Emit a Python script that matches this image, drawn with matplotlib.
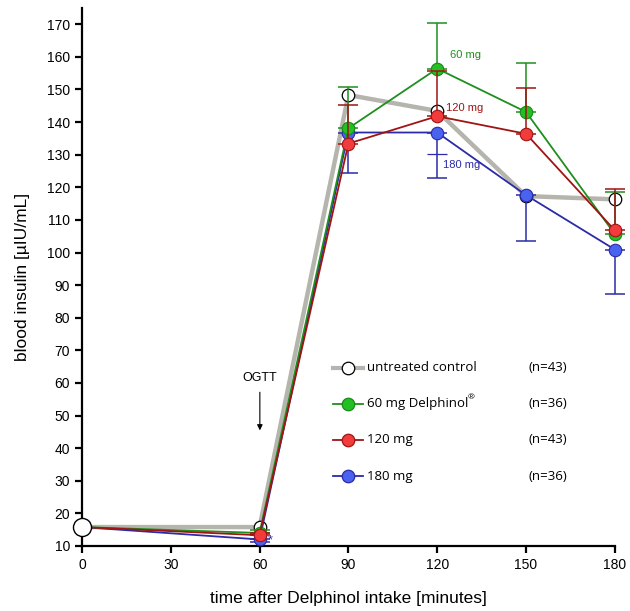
import matplotlib
matplotlib.use("Agg")
import matplotlib.pyplot as plt
from matplotlib.lines import Line2D

plt.rcParams['font.family'] = ['Liberation Sans', 'DejaVu Sans']

time = [0, 60, 90, 120, 150, 180]
control = [15.8, 15.8, 148.3, 143.4, 117.3, 116.3]
mg60 = [15.8, 14.0, 138.1, 156.4, 143.1, 105.6]
mg120 = [15.8, 13.3, 133.4, 141.8, 136.4, 106.8]
mg180 = [15.8, 12.0, 136.8, 136.8, 117.6, 100.9]

# one-sided error bars (upper for 60/120 mg, lower for 180 mg)
err60_up = [0, 0.8, 12.8, 14.0, 14.9, 12.9]
err120_up = [0, 0.8, 11.7, 14.0, 14.2, 12.6]
err180_dn = [0, 0.8, 12.3, 14.0, 14.0, 13.6]
blue_mid_tick = (120, 130.2)

legend_labels = ["untreated control", "60 mg Delphinol", "120 mg", "180 mg"]
legend_n = ["(n=43)", "(n=36)", "(n=43)", "(n=36)"]
xticks = [0, 30, 60, 90, 120, 150, 180]
yticks = list(range(10, 171, 10))

c_grey = "#b5b5ae"
g_line, g_fill, g_edge = "#1f8f1f", "#22c022", "#178a17"
r_line, r_fill, r_edge = "#a01414", "#f23c3c", "#a01414"
b_line, b_fill, b_edge = "#2b2ba8", "#4a62f0", "#2b2ba8"

fig = plt.figure(figsize=(6.30, 6.11), dpi=100)
ax = fig.add_axes([0.130, 0.1064, 0.846, 0.8806])
ax.set_xlim(0, 180)
ax.set_ylim(10, 175)

ms = 9
# control
ax.plot(time, control, color=c_grey, lw=3.2, zorder=2, solid_capstyle='butt')
ax.plot(time[1:], control[1:], 'o', mfc='white', mec='black', mew=0.9, ms=ms, zorder=2.5, clip_on=False)
ax.plot(time[:1], control[:1], 'o', mfc='white', mec='black', mew=1.0, ms=13, zorder=9, clip_on=False)

# 180 mg
ax.errorbar(time[1:], mg180[1:], yerr=[err180_dn[1:], [0]*5], fmt='none', ecolor=b_line,
            elinewidth=1.1, capsize=7, capthick=1.1, zorder=3, clip_on=False)
ax.plot([blue_mid_tick[0]], [blue_mid_tick[1]], marker='_', color=b_line, ms=14, mew=0.9, zorder=3)
ax.plot(time, mg180, color=b_line, lw=1.3, zorder=3)
ax.plot(time[1:], mg180[1:], 'o', mfc=b_fill, mec=b_edge, mew=0.8, ms=ms, zorder=3.5, clip_on=False)

# 60 mg
ax.errorbar(time[1:], mg60[1:], yerr=[[0]*5, err60_up[1:]], fmt='none', ecolor=g_line,
            elinewidth=1.1, capsize=7, capthick=1.1, zorder=4, clip_on=False)
ax.plot(time, mg60, color=g_line, lw=1.3, zorder=4)
ax.plot(time[1:], mg60[1:], 'o', mfc=g_fill, mec=g_edge, mew=0.8, ms=ms, zorder=4.5, clip_on=False)

# 120 mg
ax.errorbar(time[1:], mg120[1:], yerr=[[0]*5, err120_up[1:]], fmt='none', ecolor=r_line,
            elinewidth=1.1, capsize=7, capthick=1.1, zorder=5, clip_on=False)
ax.plot(time, mg120, color=r_line, lw=1.3, zorder=5)
ax.plot(time[1:], mg120[1:], 'o', mfc=r_fill, mec=r_edge, mew=0.8, ms=ms, zorder=5.5, clip_on=False)

# annotations
ax.text(129.4, 160.6, "60 mg", color=g_line, fontsize=8, ha='center', va='center')
ax.text(129.4, 144.4, "120 mg", color=r_line, fontsize=8, ha='center', va='center')
ax.text(128.4, 126.9, "180 mg", color=b_line, fontsize=8, ha='center', va='center')
ax.text(60.1, 61.5, "OGTT", fontsize=9, ha='center', va='center')
ax.annotate("", xy=(60.1, 44.6), xytext=(60.1, 58.0),
            arrowprops=dict(arrowstyle='-|>', color='black', lw=0.8, mutation_scale=8))
ax.text(63.6, 11.6, "*", color=b_line, fontsize=9, ha='center', va='center')

# custom legend
rows_y = [0.331, 0.264, 0.197, 0.130]
styles = [
    (c_grey, 3.0, 'white', 'black'),
    (g_line, 1.3, g_fill, g_edge),
    (r_line, 1.3, r_fill, r_edge),
    (b_line, 1.3, b_fill, b_edge),
]
lfont = ['Open Sans', 'DejaVu Sans']
for yy, (lc, lw, fc, ec), lab, n in zip(rows_y, styles, legend_labels, legend_n):
    ax.add_line(Line2D([0.471, 0.527], [yy, yy], transform=ax.transAxes, color=lc, lw=lw, zorder=6))
    ax.add_line(Line2D([0.499], [yy], transform=ax.transAxes, marker='o', ms=ms,
                       mfc=fc, mec=ec, mew=0.9, ls='none', zorder=7))
    t = ax.text(0.535, yy, lab, transform=ax.transAxes, fontsize=9.5, va='center', ha='left',
                family=lfont)
    ax.text(0.837, yy, n, transform=ax.transAxes, fontsize=9.5, va='center', ha='left', family=lfont)
    if lab.startswith("60 mg"):
        fig.canvas.draw()
        bb = t.get_window_extent().transformed(ax.transAxes.inverted())
        ax.text(bb.x1 - 0.001, yy + 0.011, "®", transform=ax.transAxes, fontsize=6,
                va='center', ha='left', family=lfont)

# axes styling
for s in ['top', 'right']:
    ax.spines[s].set_visible(False)
for s in ['left', 'bottom']:
    ax.spines[s].set_linewidth(1.6)
ax.set_xticks(xticks)
ax.set_yticks(yticks)
ax.tick_params(axis='both', direction='out', length=5, width=1.6, labelsize=10)
ax.set_xlabel("time after Delphinol intake [minutes]", fontsize=12.5, labelpad=14)
ax.set_ylabel("blood insulin [µIU/mL]", fontsize=12.5, labelpad=12)

fig.savefig("out.png", dpi=100)
